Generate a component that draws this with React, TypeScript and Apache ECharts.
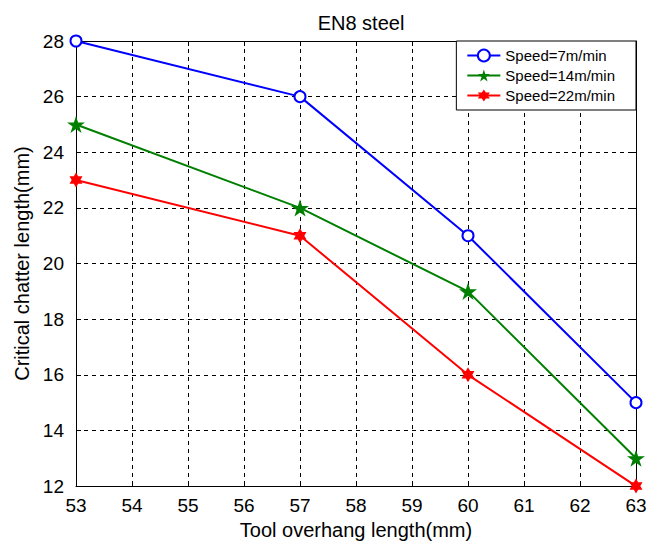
import React, { useEffect, useRef } from "react";
import * as echarts from "echarts";

const xValues = [53, 57, 60, 63];
const speed7 = [28, 26, 21, 15];
const speed14 = [25, 22, 19, 13];
const speed22 = [23, 21, 16, 12];
const seriesNames = ["Speed=7m/min", "Speed=14m/min", "Speed=22m/min"];

const PENTAGRAM =
  "path://M50 0 L61.17 34.63 L97.55 34.55 L68.07 55.87 L79.39 90.45 L50 69 L20.61 90.45 L31.93 55.87 L2.45 34.55 L38.83 34.63 Z";
const HEXAGRAM =
  "path://M50 0 L64.43 25 L93.3 25 L78.87 50 L93.3 75 L64.43 75 L50 100 L35.57 75 L6.7 75 L21.13 50 L6.7 25 L35.57 25 Z";

const FONT = "Liberation Sans, Arial, Helvetica, sans-serif";

export default function App() {
  const ref = useRef<HTMLDivElement>(null);
  useEffect(() => {
    if (!ref.current) return;
    const chart = echarts.init(ref.current, null, { renderer: "svg" });
    const pairs = (ys: number[]) => xValues.map((x, i) => [x, ys[i]]);
    const axisCommon = {
      axisLine: { show: true, onZero: false, lineStyle: { color: "#000", width: 1 } },
      axisTick: { show: true, inside: true, length: 5, lineStyle: { color: "#000" } },
    };
    chart.setOption({
      animation: false,
      backgroundColor: "#fff",
      textStyle: { fontFamily: FONT },
      title: {
        text: "EN8 steel",
        left: 356,
        top: 8,
        textAlign: "center",
        textStyle: { fontSize: 20, fontWeight: "normal", color: "#000", fontFamily: FONT },
      },
      grid: { left: 76, right: 25, top: 41, bottom: 58, containLabel: false },
      legend: {
        orient: "vertical",
        right: 25,
        top: 41,
        padding: [7, 21, 7, 10],
        itemGap: 5,
        itemWidth: 33,
        itemHeight: 15,
        backgroundColor: "#fff",
        borderColor: "#000",
        borderWidth: 1,
        borderRadius: 0,
        data: seriesNames,
        textStyle: { fontSize: 15, color: "#000", fontFamily: FONT },
      },
      xAxis: [
        {
          type: "value",
          min: 53,
          max: 63,
          interval: 1,
          name: "Tool overhang length(mm)",
          nameLocation: "middle",
          nameGap: 27,
          nameTextStyle: { fontSize: 20, color: "#000", fontFamily: FONT },
          ...axisCommon,
          axisLabel: { fontSize: 19, color: "#000", margin: 10, fontFamily: FONT },
          splitLine: { show: true, lineStyle: { color: "#000", type: [4, 4], width: 1 } },
        },
        {
          type: "value",
          position: "top",
          min: 53,
          max: 63,
          interval: 1,
          ...axisCommon,
          axisLabel: { show: false },
          splitLine: { show: false },
        },
      ],
      yAxis: [
        {
          type: "value",
          min: 12,
          max: 28,
          interval: 2,
          name: "Critical chatter length(mm)",
          nameLocation: "middle",
          nameGap: 34,
          nameTextStyle: { fontSize: 20, color: "#000", fontFamily: FONT },
          ...axisCommon,
          axisLabel: { fontSize: 19, color: "#000", margin: 12, fontFamily: FONT },
          splitLine: { show: true, lineStyle: { color: "#000", type: [4, 4], width: 1 } },
        },
        {
          type: "value",
          position: "right",
          min: 12,
          max: 28,
          interval: 2,
          ...axisCommon,
          axisLabel: { show: false },
          splitLine: { show: false },
        },
      ],
      series: [
        {
          name: seriesNames[0],
          type: "line",
          data: pairs(speed7),
          symbol: "circle",
          symbolSize: 11,
          showAllSymbol: true,
          lineStyle: { color: "#0000ff", width: 2 },
          itemStyle: { color: "#fff", borderColor: "#0000ff", borderWidth: 2 },
          z: 5,
        },
        {
          name: seriesNames[1],
          type: "line",
          data: pairs(speed14),
          symbol: PENTAGRAM,
          symbolSize: 18,
          symbolKeepAspect: true,
          lineStyle: { color: "#007f00", width: 2 },
          itemStyle: { color: "#007f00", borderColor: "#007f00", borderWidth: 0 },
          z: 4,
        },
        {
          name: seriesNames[2],
          type: "line",
          data: pairs(speed22),
          symbol: HEXAGRAM,
          symbolSize: 15,
          symbolKeepAspect: true,
          lineStyle: { color: "#ff0000", width: 2 },
          itemStyle: { color: "#ff0000", borderColor: "#ff0000", borderWidth: 0 },
          z: 3,
        },
      ],
    });
    return () => chart.dispose();
  }, []);
  return <div ref={ref} style={{ width: 661, height: 545, position: "absolute", left: 0, top: 0 }} />;
}
